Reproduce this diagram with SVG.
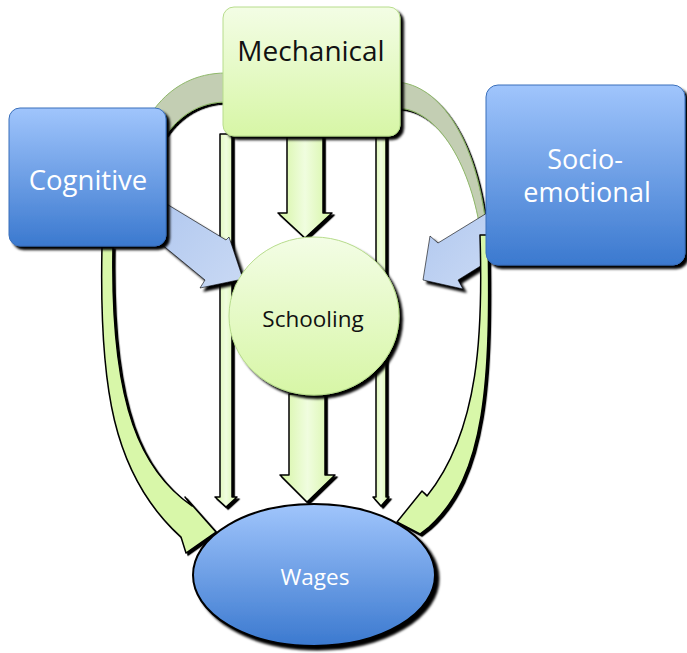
<svg xmlns="http://www.w3.org/2000/svg" width="687" height="653" viewBox="0 0 687 653">
<defs>
<filter id="sh" x="-20%" y="-20%" width="140%" height="140%">
<feDropShadow dx="3.5" dy="3.5" stdDeviation="0.9" flood-color="#000" flood-opacity="1"/>
</filter>
<filter id="shs" x="-30%" y="-10%" width="160%" height="120%">
<feDropShadow dx="2.2" dy="2.2" stdDeviation="0.7" flood-color="#000" flood-opacity="1"/>
</filter>
<linearGradient id="gNode" x1="0" y1="0" x2="0" y2="1">
<stop offset="0" stop-color="#f3fde5"/>
<stop offset="1" stop-color="#d7f6a6"/>
</linearGradient>
<linearGradient id="bNode" x1="0" y1="0" x2="0" y2="1">
<stop offset="0" stop-color="#a0c5fc"/>
<stop offset="1" stop-color="#3b79cf"/>
</linearGradient>
<linearGradient id="gArr" x1="0" y1="0" x2="1" y2="0">
<stop offset="0" stop-color="#d5f5a3"/>
<stop offset="0.5" stop-color="#f0fddf"/>
<stop offset="1" stop-color="#d5f5a3"/>
</linearGradient>
<linearGradient id="bArr" x1="0" y1="0" x2="1" y2="1">
<stop offset="0" stop-color="#b1c8ef"/>
<stop offset="1" stop-color="#c9d9f4"/>
</linearGradient>
</defs>
<style>
.arr{fill:url(#gArr);stroke:#000;stroke-width:1.5;stroke-linejoin:round;filter:url(#shs)}
.curve{fill:#d8f7a9;stroke:#000;stroke-width:1.5;stroke-linejoin:round;filter:url(#shs)}
.back{fill:#c3ceb3;stroke:#8fb86a;stroke-width:1;filter:url(#shs)}
.barr{fill:url(#bArr);stroke:#000;stroke-width:0.6;filter:url(#sh)}
.gnode{fill:url(#gNode);stroke:#b7dc8c;stroke-width:1;filter:url(#sh)}
.bnode{fill:url(#bNode);stroke:#3a6fba;stroke-width:1;filter:url(#sh)}
.dt{font-family:"Open Sans","Liberation Sans",sans-serif;fill:#111;text-anchor:middle}
.wt{font-family:"Open Sans","Liberation Sans",sans-serif;fill:#fff;text-anchor:middle}
</style>
<g id="connectors">
<path class="back" d="M226,73 C196,73 172,86 155,108 L166,135 C180,115 200,102 226,102 Z"/>
<path class="curve" d="M102,247 C99,385 112,475 181,537 L186,553 L216,532 L185,497 L192,506 C143,472 110,410 113,247 Z"/>
<path class="back" d="M396,82 C440,84 478,140 487,235 L481,235 C472,170 440,108 396,108 Z"/>
<path class="arr" d="M220,134 L232,134 L232,497 L237,497 L226,507 L215,497 L220,497 Z"/>
<path class="arr" d="M376,134 L386,134 L386,497 L389,497 L381,506 L373,497 L376,497 Z"/>
<path class="arr" d="M287,136 L323,136 L323,213 L332,213 L305,238 L278,213 L287,213 Z"/>
<path class="arr" d="M289,394 L325,394 L325,475 L335,475 L307,502 L280,475 L289,475 Z"/>
<path class="barr" d="M160,200 L226,240 L229,237 L243,279 L200,288 L205,280 L160,243 Z"/>
<path class="barr" d="M487,213 L438,243 L430,236 L423,280 L463,289 L458,280 L487,262 Z"/>
<path class="curve" d="M480,235 C483,330 480,430 427,496 L422,491 L397,522 L420,534 L429,527 C486,476 491,380 488,235 Z"/>
</g>
<g id="mechanical">
<rect class="gnode" x="223" y="7" width="177" height="129" rx="11"/>
<text class="dt" x="311" y="61" font-size="28">Mechanical</text>
</g>
<g id="cognitive">
<rect class="bnode" x="9" y="108" width="157" height="138" rx="11"/>
<text class="wt" x="88" y="190" font-size="27.5">Cognitive</text>
</g>
<g id="socioemotional">
<rect class="bnode" x="486" y="85" width="199" height="180" rx="12"/>
<text class="wt" x="585" y="169" font-size="27">Socio-</text>
<text class="wt" x="587" y="202" font-size="27">emotional</text>
</g>
<g id="schooling">
<ellipse class="gnode" cx="314" cy="316" rx="85" ry="79"/>
<text class="dt" x="313" y="327" font-size="22.5">Schooling</text>
</g>
<g id="wages">
<ellipse cx="314" cy="575" rx="121" ry="71" fill="url(#bNode)" stroke="#000" stroke-width="2" filter="url(#sh)"/>
<text class="wt" x="315" y="585" font-size="22.5">Wages</text>
</g>
</svg>
